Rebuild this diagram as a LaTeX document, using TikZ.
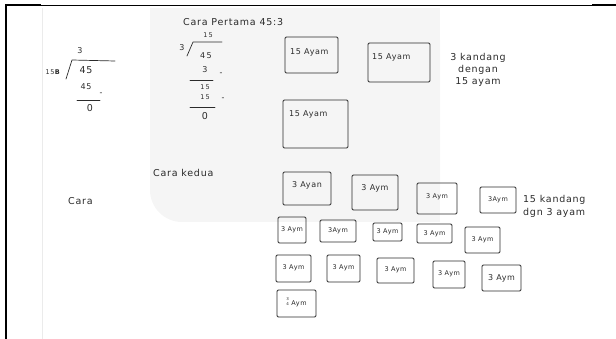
\documentclass[tikz,border=0pt]{standalone}
\usepackage{fontspec}
\setmainfont[LetterSpace=8]{DejaVu Sans}
\definecolor{ink}{HTML}{2A2A2A}
\definecolor{paper}{HTML}{F5F5F5}
\begin{document}
\begin{tikzpicture}[x=1pt,y=-1pt,
  hw/.style={font=\fontsize{9.5}{11}\selectfont, inner sep=0pt, text=ink},
  hwsmall/.style={font=\fontsize{8}{9}\selectfont, inner sep=0pt, text=ink},
  hwtiny/.style={font=\fontsize{6.5}{7}\selectfont, inner sep=0pt, text=ink},
  stroke/.style={draw=ink, line width=0.7pt, line cap=round, line join=round},
  cage/.style={draw=ink, line width=0.8pt, rounded corners=1.2pt}]
\useasboundingbox (0,0) rectangle (616,339);
% paper background
\fill[paper, rounded corners=32pt] (150,8) rectangle (440,222);
\fill[paper] (200,8) rectangle (440,222);
\fill[paper] (150,8) rectangle (440,160);
\draw[black!8, line width=0.6pt] (42,8) -- (42,339);
% frame
\draw[black, line width=2pt] (6,5) -- (6,339);
\draw[black, line width=1pt] (5,5.5) -- (616,5.5);
\draw[black, line width=2pt] (5,5.5) -- (41,5.5);
\draw[black, line width=2pt] (592,5.5) -- (616,5.5);

% ---- first long division
\node[hwsmall] (q1) at (80,51) {3};
\node[hwtiny] (dv1) at (53,72) {15\textbf{B}};
\coordinate (b1a) at (66,79);
\coordinate (b1b) at (72,60);
\coordinate (b1c) at (115,61);
\draw[stroke] (b1a) -- (b1b) -- (b1c);
\node[hw] (n1) at (86,70) {45};
\node[hwsmall] (n2) at (86,87) {45};
\node[hwsmall] (m1) at (101,94) {-};
\coordinate (l1a) at (77,100); \coordinate (l1b) at (100,100);
\draw[stroke] (l1a) -- (l1b);
\node[hw] (r1) at (90,108) {0};

% ---- title
\node[hw, anchor=west] (t1) at (183,22) {Cara Pertama 45:3};

% ---- second long division
\node[hwtiny] (q2) at (208,35) {1\,5};
\node[hwsmall] (dv2) at (182,48) {3};
\coordinate (b2a) at (187,56);
\coordinate (b2b) at (193,42);
\coordinate (b2c) at (222,42);
\draw[stroke] (b2a) -- (b2b) -- (b2c);
\node[hwsmall] (n3) at (206,56) {4\,5};
\node[hwsmall] (n4) at (205,70) {3};
\node[hwsmall] (m2) at (221,74) {-};
\coordinate (l2a) at (190,80); \coordinate (l2b) at (213,80);
\draw[stroke] (l2a) -- (l2b);
\node[hwtiny] (n5) at (205,87) {1\,5};
\node[hwtiny] (n6) at (205,97) {1\,5};
\node[hwsmall] (m3) at (223,99) {-};
\coordinate (l3a) at (190,107); \coordinate (l3b) at (215,107);
\draw[stroke] (l3a) -- (l3b);
\node[hw] (r2) at (205,116) {0};

% ---- 15 ayam cages
\draw[cage] (285,37) rectangle (338,73);
\node[hwsmall, anchor=west] (a1) at (290,52) {15 Ayam};
\draw[cage] (368,43) rectangle (430,82);
\node[hwsmall, anchor=west] (a2) at (372,57) {15 Ayam};
\draw[cage] (283,100) rectangle (348,148);
\node[hwsmall, anchor=west] (a3) at (289,114) {15 Ayam};
\node[hw, align=center] (k1) at (478,70) {3 kandang\\[1pt]dengan\\[1pt]15 ayam};

% ---- second way
\node[hw, anchor=west] (t2) at (153,173) {Cara kedua};
\node[hw, anchor=west] (t3) at (68,201) {Cara};

% row 1
\draw[cage] (283,172) rectangle (331,205);
\node[hwsmall] (c1) at (307,185) {3 Ayan};
\draw[cage] (352,175) rectangle (398,210);
\node[hwsmall] (c2) at (375,188) {3 Aym};
\draw[cage] (417,183) rectangle (457,214);
\node[hwtiny] (c3) at (437,197) {3 Aym};
\draw[cage] (480,187) rectangle (516,213);
\node[hwtiny] (c4) at (498,200) {3Aym};
\node[hw, align=left, anchor=west] (k2) at (523,206) {15 kandang\\[2pt]dgn 3 ayam};

% row 2
\draw[cage] (278,217) rectangle (306,243);
\node[hwtiny] (d1) at (292,230) {3 Aym};
\draw[cage] (320,220) rectangle (356,242);
\node[hwtiny] (d2) at (338,231) {3Aym};
\draw[cage] (373,223) rectangle (402,241);
\node[hwtiny] (d3) at (387.5,232) {3 Aym};
\draw[cage] (417,224) rectangle (452,243);
\node[hwtiny] (d4) at (434.5,234) {3 Aym};
\draw[cage] (465,227) rectangle (500,253);
\node[hwtiny] (d5) at (482.5,240) {3 Aym};

% row 3
\draw[cage] (276,255) rectangle (311,282);
\node[hwtiny] (e1) at (293.5,268) {3 Aym};
\draw[cage] (327,255) rectangle (360,282);
\node[hwtiny] (e2) at (343.5,268) {3 Aym};
\draw[cage] (377,258) rectangle (414,283);
\node[hwtiny] (e3) at (395.5,270) {3 Aym};
\draw[cage] (433,261) rectangle (465,288);
\node[hwtiny] (e4) at (449,274) {3 Aym};
\draw[cage] (482,265) rectangle (521,291);
\node[hwsmall] (e5) at (501.5,278) {3 Aym};

% row 4
\draw[cage] (277,290) rectangle (316,317);
\node[hwtiny] (f1) at (296.5,304) {\raisebox{0pt}[0pt][0pt]{\shortstack{\fontsize{4}{4}\selectfont 3\\[-1pt]\fontsize{4}{4}\selectfont 4}}\ Aym};
\end{tikzpicture}
\end{document}
